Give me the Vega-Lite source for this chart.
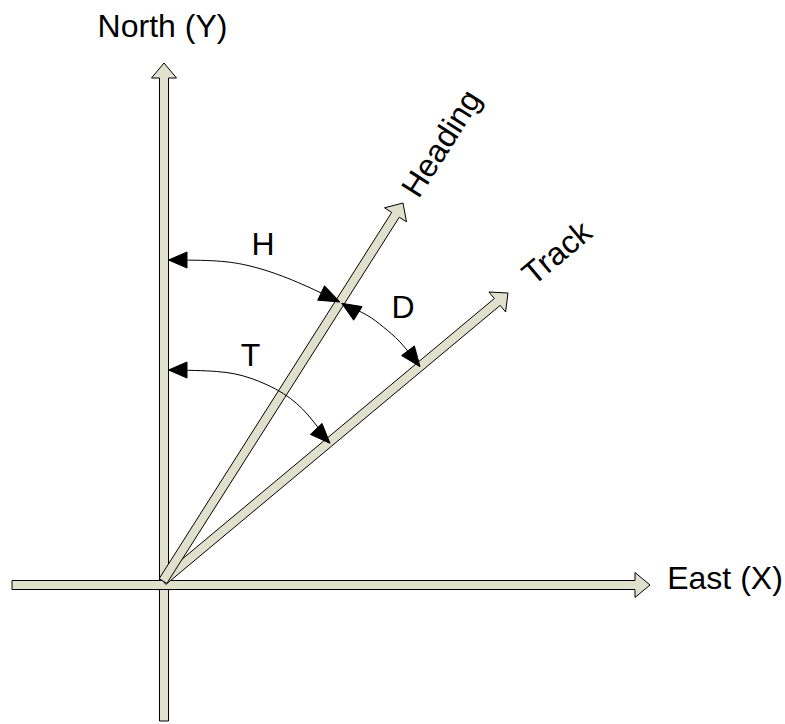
{
  "$schema": "https://vega.github.io/schema/vega-lite/v6.json",
  "width": 785,
  "height": 724,
  "padding": 0,
  "autosize": {"type": "none"},
  "background": "white",
  "config": {"view": {"stroke": null}},
  "datasets": {
    "shapes": [
      {"id": "north", "i": 0, "x": -4.5, "y": -136},
      {"id": "north", "i": 1, "x": 4.5, "y": -136},
      {"id": "north", "i": 2, "x": 4.5, "y": 507},
      {"id": "north", "i": 3, "x": 12.5, "y": 507},
      {"id": "north", "i": 4, "x": 0, "y": 522},
      {"id": "north", "i": 5, "x": -12.5, "y": 507},
      {"id": "north", "i": 6, "x": -4.5, "y": 507},
      {"id": "east", "i": 0, "x": -152, "y": 4.5},
      {"id": "east", "i": 1, "x": 471, "y": 4.5},
      {"id": "east", "i": 2, "x": 471, "y": 12.5},
      {"id": "east", "i": 3, "x": 486, "y": 0},
      {"id": "east", "i": 4, "x": 471, "y": -12.5},
      {"id": "east", "i": 5, "x": 471, "y": -4.5},
      {"id": "east", "i": 6, "x": -152, "y": -4.5},
      {"id": "track", "i": 0, "x": 1.88, "y": 0.54},
      {"id": "track", "i": 1, "x": 336.13, "y": 279.57},
      {"id": "track", "i": 2, "x": 341.6, "y": 273.05},
      {"id": "track", "i": 3, "x": 344, "y": 292},
      {"id": "track", "i": 4, "x": 324.9, "y": 293.0},
      {"id": "track", "i": 5, "x": 330.37, "y": 286.49},
      {"id": "track", "i": 6, "x": -3.88, "y": 7.46},
      {"id": "heading", "i": 0, "x": 2.8, "y": 1.6},
      {"id": "heading", "i": 1, "x": 235.3, "y": 367.8},
      {"id": "heading", "i": 2, "x": 242.5, "y": 363.2},
      {"id": "heading", "i": 3, "x": 239, "y": 382},
      {"id": "heading", "i": 4, "x": 220.5, "y": 377.2},
      {"id": "heading", "i": 5, "x": 227.7, "y": 372.6},
      {"id": "heading", "i": 6, "x": -4.8, "y": 6.4}
    ],
    "arcs": [
      {"id": "H", "i": 0, "x": 6, "y": 325},
      {"id": "H", "i": 1, "x": 52.7, "y": 324},
      {"id": "H", "i": 2, "x": 86, "y": 319},
      {"id": "H", "i": 3, "x": 119.3, "y": 308.5},
      {"id": "H", "i": 4, "x": 154, "y": 293.5},
      {"id": "H", "i": 5, "x": 174, "y": 283},
      {"id": "T", "i": 0, "x": 6, "y": 215},
      {"id": "T", "i": 1, "x": 52.7, "y": 213.5},
      {"id": "T", "i": 2, "x": 86, "y": 207},
      {"id": "T", "i": 3, "x": 119.3, "y": 191.5},
      {"id": "T", "i": 4, "x": 144, "y": 170},
      {"id": "T", "i": 5, "x": 164, "y": 144},
      {"id": "D", "i": 0, "x": 178, "y": 281.5},
      {"id": "D", "i": 1, "x": 202.7, "y": 270},
      {"id": "D", "i": 2, "x": 219.3, "y": 258},
      {"id": "D", "i": 3, "x": 236, "y": 243},
      {"id": "D", "i": 4, "x": 255, "y": 219.5}
    ],
    "heads": [
      {"id": "Hs", "i": 0, "x": 4.5, "y": 325},
      {"id": "Hs", "i": 1, "x": 23, "y": 333},
      {"id": "Hs", "i": 2, "x": 23, "y": 317},
      {"id": "He", "i": 0, "x": 176, "y": 283},
      {"id": "He", "i": 1, "x": 160.5, "y": 299.2},
      {"id": "He", "i": 2, "x": 153.7, "y": 284.8},
      {"id": "Ts", "i": 0, "x": 4.5, "y": 215},
      {"id": "Ts", "i": 1, "x": 23, "y": 223},
      {"id": "Ts", "i": 2, "x": 23, "y": 207},
      {"id": "Te", "i": 0, "x": 166, "y": 141.7},
      {"id": "Te", "i": 1, "x": 158, "y": 161.6},
      {"id": "Te", "i": 2, "x": 146.4, "y": 150.6},
      {"id": "Ds", "i": 0, "x": 177.7, "y": 281.7},
      {"id": "Ds", "i": 1, "x": 198.1, "y": 278.4},
      {"id": "Ds", "i": 2, "x": 189.7, "y": 264.8},
      {"id": "De", "i": 0, "x": 256, "y": 218.3},
      {"id": "De", "i": 1, "x": 250.4, "y": 239.1},
      {"id": "De", "i": 2, "x": 237.6, "y": 229.5}
    ],
    "labels": [
      {"label": "North (Y)", "x": -1.5, "y": 548},
      {"label": "East (X)", "x": 561, "y": -4},
      {"label": "H", "x": 99, "y": 330},
      {"label": "D", "x": 239, "y": 266.7},
      {"label": "T", "x": 86.4, "y": 219}
    ],
    "rotlabels": [
      {"label": "Heading", "x": 286.4, "y": 435.9},
      {"label": "Track", "x": 399.7, "y": 323.9}
    ]
  },
  "encoding": {
    "x": {"field": "x", "type": "quantitative", "scale": {"domain": [-164, 621], "nice": false, "zero": false}, "axis": null},
    "y": {"field": "y", "type": "quantitative", "scale": {"domain": [-139, 585], "nice": false, "zero": false}, "axis": null}
  },
  "layer": [
    {
      "data": {"name": "shapes"},
      "transform": [{"filter": "datum.id === 'north'"}],
      "mark": {"type": "line", "interpolate": "linear-closed", "fill": "#dfe1cc", "stroke": "black", "strokeWidth": 1},
      "encoding": {"order": {"field": "i", "type": "quantitative"}}
    },
    {
      "data": {"name": "shapes"},
      "transform": [{"filter": "datum.id === 'east'"}],
      "mark": {"type": "line", "interpolate": "linear-closed", "fill": "#dfe1cc", "stroke": "black", "strokeWidth": 1},
      "encoding": {"order": {"field": "i", "type": "quantitative"}}
    },
    {
      "data": {"name": "shapes"},
      "transform": [{"filter": "datum.id === 'track'"}],
      "mark": {"type": "line", "interpolate": "linear-closed", "fill": "#dfe1cc", "stroke": "black", "strokeWidth": 1},
      "encoding": {"order": {"field": "i", "type": "quantitative"}}
    },
    {
      "data": {"name": "shapes"},
      "transform": [{"filter": "datum.id === 'heading'"}],
      "mark": {"type": "line", "interpolate": "linear-closed", "fill": "#dfe1cc", "stroke": "black", "strokeWidth": 1},
      "encoding": {"order": {"field": "i", "type": "quantitative"}}
    },
    {
      "data": {"name": "arcs"},
      "mark": {"type": "line", "interpolate": "natural", "stroke": "black", "strokeWidth": 1},
      "encoding": {"detail": {"field": "id"}, "order": {"field": "i", "type": "quantitative"}}
    },
    {
      "data": {"name": "heads"},
      "mark": {"type": "line", "interpolate": "linear-closed", "fill": "black", "stroke": "black", "strokeWidth": 1},
      "encoding": {"detail": {"field": "id"}, "order": {"field": "i", "type": "quantitative"}}
    },
    {
      "data": {"name": "labels"},
      "mark": {"type": "text", "align": "center", "baseline": "alphabetic", "font": "Liberation Sans", "fontSize": 32, "color": "black"},
      "encoding": {"text": {"field": "label"}}
    },
    {
      "data": {"name": "rotlabels"},
      "transform": [{"filter": "datum.label === 'Heading'"}],
      "mark": {"type": "text", "align": "center", "baseline": "alphabetic", "font": "Liberation Sans", "fontSize": 32, "color": "black", "angle": 302.4},
      "encoding": {"text": {"field": "label"}}
    },
    {
      "data": {"name": "rotlabels"},
      "transform": [{"filter": "datum.label === 'Track'"}],
      "mark": {"type": "text", "align": "center", "baseline": "alphabetic", "font": "Liberation Sans", "fontSize": 32, "color": "black", "angle": 320.1},
      "encoding": {"text": {"field": "label"}}
    }
  ]
}
